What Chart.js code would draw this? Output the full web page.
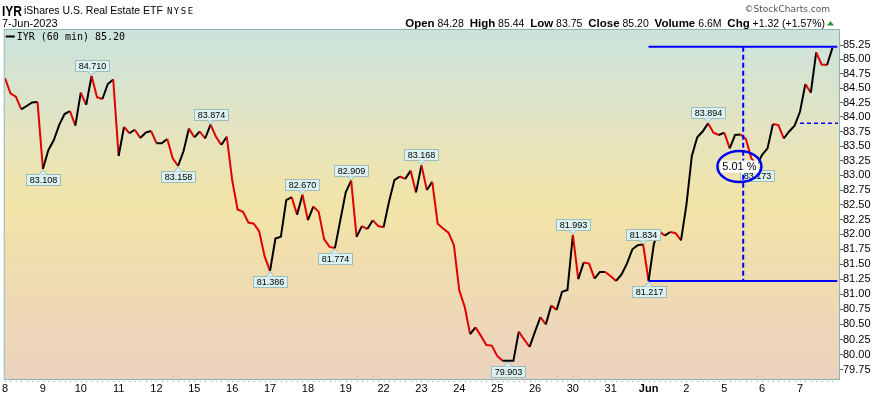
<!DOCTYPE html>
<html>
<head>
  <meta charset="UTF-8">
  <title>IYR 60 min</title>
  <script src="https://cdn.jsdelivr.net/npm/chart.js@4.4.0/dist/chart.umd.min.js"></script>
  <style>
    body { margin: 0; padding: 0; background: #fff; }
    #wrap { width: 872px; height: 395px; position: relative; }
  </style>
</head>
<body>
  <div id="wrap"><canvas id="chart"></canvas></div>

  <script>
    // one label per trading day, 7 hourly bars per day
    const dayLabels = ['8', '9', '10', '11', '12', '15', '16', '17', '18', '19', '22', '23',
      '24', '25', '26', '30', '31', 'Jun', '2', '5', '6', '7'];
    const barsPerDay = 7;

    const closes = [
      84.67, 84.41, 84.35, 84.13, 84.19, 84.25, 84.26,
      83.11, 83.43, 83.60, 83.86, 84.05, 84.10, 83.85,
      84.42, 84.21, 84.71, 84.34, 84.31, 84.57, 84.65,
      83.33, 83.83, 83.72, 83.78, 83.64, 83.73, 83.76,
      83.55, 83.55, 83.62, 83.29, 83.16, 83.41, 83.80,
      83.65, 83.75, 83.63, 83.87, 83.66, 83.52, 83.66,
      82.92, 82.42, 82.38, 82.20, 82.18, 82.05, 81.63,
      81.39, 81.93, 81.96, 82.58, 82.63, 82.33, 82.67,
      82.24, 82.47, 82.38, 81.92, 81.79, 81.77, 82.24,
      82.71, 82.91, 81.96, 82.14, 82.09, 82.24, 82.14,
      82.12, 82.55, 82.92, 82.98, 82.94, 83.08, 82.71,
      83.17, 82.75, 82.89, 82.18, 82.10, 82.03, 81.82,
      81.06, 80.79, 80.34, 80.45, 80.31, 80.16, 80.15,
      79.98, 79.90, 79.90, 79.90, 80.38, 80.25, 80.13,
      80.38, 80.62, 80.50, 80.81, 80.74, 81.04, 81.07,
      81.99, 81.25, 81.53, 81.51, 81.26, 81.37, 81.37,
      81.30, 81.22, 81.33, 81.51, 81.75, 81.82, 81.83,
      81.22, 81.85, 82.05, 81.98, 82.04, 82.02, 81.90,
      82.50, 83.33, 83.65, 83.75, 83.89, 83.73, 83.69,
      83.73, 83.46, 83.69, 83.70, 83.62, 83.29, 83.17,
      83.35, 83.46, 83.88, 83.86, 83.63, 83.75, 83.85,
      84.09, 84.57, 84.42, 85.12, 84.91, 84.90, 85.20
    ];

    const yTicks = [85.25, 85.00, 84.75, 84.50, 84.25, 84.00, 83.75, 83.50, 83.25, 83.00,
      82.75, 82.50, 82.25, 82.00, 81.75, 81.50, 81.25, 81.00, 80.75, 80.50, 80.25, 80.00, 79.75];

    // swing high / low callouts
    const calloutIdx = [7, 16, 32, 38, 49, 55, 61, 64, 77, 93, 105, 118, 119, 130, 139];
    const calloutText = ['83.108', '84.710', '83.158', '83.874', '81.386', '82.670', '81.774',
      '82.909', '83.168', '79.903', '81.993', '81.834', '81.217', '83.894', '83.173'];
    const calloutSide = ['below', 'above', 'below', 'above', 'below', 'above', 'below',
      'above', 'above', 'below', 'above', 'above', 'below', 'above', 'below'];

    const SANS = '"Liberation Sans", Arial, sans-serif';

    function drawCallout(ctx, x, y, text, side) {
      ctx.font = '9px ' + SANS;
      const w = Math.round(ctx.measureText(text).width) + 6;
      const h = 11;
      const bx = Math.round(x - w / 2) + 0.5;
      const by = side === 'above' ? Math.round(y - 5 - h) + 0.5 : Math.round(y + 5) + 0.5;
      ctx.fillStyle = '#dcf2f0';
      ctx.strokeStyle = '#9cbdbb';
      ctx.lineWidth = 1;
      ctx.fillRect(bx, by, w, h);
      ctx.strokeRect(bx, by, w, h);
      // little pointer toward the bar
      const edge = side === 'above' ? by + h : by;
      const tip = side === 'above' ? y - 1 : y + 1;
      ctx.beginPath();
      ctx.moveTo(x - 4, edge);
      ctx.lineTo(x, tip);
      ctx.lineTo(x + 4, edge);
      ctx.closePath();
      ctx.fill();
      ctx.beginPath();
      ctx.moveTo(x - 4, edge);
      ctx.lineTo(x, tip);
      ctx.lineTo(x + 4, edge);
      ctx.stroke();
      ctx.fillStyle = '#000';
      ctx.textAlign = 'center';
      ctx.textBaseline = 'middle';
      ctx.fillText(text, bx + w / 2, by + h / 2 + 0.5);
    }

    const decor = {
      id: 'decor',
      beforeDraw(chart) {
        const { ctx, chartArea: a } = chart;
        ctx.save();
        ctx.fillStyle = '#fff';
        ctx.fillRect(0, 0, chart.width, chart.height);
        const g = ctx.createLinearGradient(0, a.top, 0, a.bottom);
        g.addColorStop(0, '#cbe3dd');
        g.addColorStop(0.3, '#e5e4bf');
        g.addColorStop(0.5, '#f2e4a7');
        g.addColorStop(0.75, '#efdab3');
        g.addColorStop(1, '#ebd2bf');
        ctx.fillStyle = g;
        ctx.fillRect(a.left, a.top, a.right - a.left, a.bottom - a.top);

        // header
        ctx.fillStyle = '#000';
        ctx.textBaseline = 'alphabetic';
        ctx.textAlign = 'left';
        ctx.save();
        ctx.translate(2, 16);
        ctx.scale(0.8, 1);
        ctx.font = 'bold 15px ' + SANS;
        ctx.fillText('IYR', 0, 0);
        ctx.restore();
        ctx.font = '10.5px ' + SANS;
        const title = 'iShares U.S. Real Estate ETF';
        ctx.fillText(title, 24, 13.5);
        const nx = 24 + ctx.measureText(title).width + 4;
        ctx.font = '9px "DejaVu Sans Mono", monospace';
        ctx.letterSpacing = '1.5px';
        ctx.fillText('NYSE', nx, 13.5);
        ctx.letterSpacing = '0px';
        ctx.font = '11px ' + SANS;
        ctx.fillText('7-Jun-2023', 2, 26.5);

        ctx.fillStyle = '#555';
        ctx.font = '9px "DejaVu Sans", sans-serif';
        ctx.textAlign = 'right';
        ctx.fillText('\u00a9StockCharts.com', 830, 11.5);

        const parts = [['Open', 1], [' 84.28  ', 0], ['High', 1], [' 85.44  ', 0], ['Low', 1],
          [' 83.75  ', 0], ['Close', 1], [' 85.20  ', 0], ['Volume', 1], [' 6.6M  ', 0],
          ['Chg', 1], [' +1.32 (+1.57%)', 0]];
        const fb = 'bold 11.5px ' + SANS, fn = '10.5px ' + SANS;
        let total = 0;
        parts.forEach(p => { ctx.font = p[1] ? fb : fn; total += ctx.measureText(p[0]).width; });
        let x = 825 - total;
        ctx.textAlign = 'left';
        ctx.fillStyle = '#000';
        parts.forEach(p => { ctx.font = p[1] ? fb : fn; ctx.fillText(p[0], x, 26.5); x += ctx.measureText(p[0]).width; });
        ctx.fillStyle = '#1f9a3a';
        ctx.beginPath();
        ctx.moveTo(x + 2, 25.5);
        ctx.lineTo(x + 9, 25.5);
        ctx.lineTo(x + 5.5, 21);
        ctx.closePath();
        ctx.fill();
        ctx.restore();
      },
      afterDatasetsDraw(chart) {
        const { ctx, chartArea: a, scales: { x: xs, y: ys } } = chart;
        const pts = chart.getDatasetMeta(0).data;
        ctx.save();

        calloutIdx.forEach((i, k) => drawCallout(ctx, pts[i].x, pts[i].y, calloutText[k], calloutSide[k]));

        // blue range measurement: low of Jun 1 to the latest high
        const lowIdx = 119;
        const xStart = xs.getPixelForValue(lowIdx);
        const xEnd = xs.getPixelForValue(153.9);
        const yHigh = ys.getPixelForValue(85.22);
        const yLow = ys.getPixelForValue(closes[lowIdx]);
        ctx.strokeStyle = '#0000ff';
        ctx.lineWidth = 2;
        ctx.beginPath();
        ctx.moveTo(xStart, yHigh); ctx.lineTo(xEnd, yHigh);
        ctx.moveTo(xStart, yLow); ctx.lineTo(xEnd, yLow);
        ctx.stroke();

        const xv = xs.getPixelForValue(136.5);
        ctx.setLineDash([5, 3]);
        ctx.beginPath();
        ctx.moveTo(xv, yHigh); ctx.lineTo(xv, yLow);
        ctx.stroke();

        const yMid = ys.getPixelForValue(83.894);
        ctx.lineWidth = 1.5;
        ctx.setLineDash([4, 3]);
        ctx.beginPath();
        ctx.moveTo(xs.getPixelForValue(147), yMid); ctx.lineTo(a.right - 2, yMid);
        ctx.stroke();
        ctx.setLineDash([]);

        // circled percentage
        const ex = xs.getPixelForValue(135.8), ey = ys.getPixelForValue(83.15);
        ctx.font = '11px ' + SANS;
        const label = '5.01 %';
        const tw = ctx.measureText(label).width;
        ctx.fillStyle = '#fff';
        ctx.fillRect(ex - tw / 2 - 2, ey - 6, tw + 4, 12);
        ctx.fillStyle = '#000';
        ctx.textAlign = 'center';
        ctx.textBaseline = 'middle';
        ctx.fillText(label, ex, ey);
        ctx.strokeStyle = '#0000ee';
        ctx.lineWidth = 2.5;
        ctx.beginPath();
        ctx.ellipse(ex, ey, 22, 15.5, 0, 0, Math.PI * 2);
        ctx.stroke();

        // legend
        ctx.fillStyle = '#000';
        ctx.fillRect(a.left + 1, a.top + 5.5, 9, 2);
        ctx.font = '10px "DejaVu Sans Mono", monospace';
        ctx.textAlign = 'left';
        ctx.textBaseline = 'middle';
        ctx.fillText('IYR (60 min) 85.20', a.left + 12, a.top + 7);
        ctx.restore();
      },
      afterDraw(chart) {
        const { ctx, chartArea: a, scales: { x: xs } } = chart;
        ctx.save();
        ctx.strokeStyle = '#8fb1b0';
        ctx.lineWidth = 1;
        ctx.strokeRect(a.left - 0.5, a.top - 0.5, a.right - a.left, a.bottom - a.top);
        // small hourly ticks under the frame
        ctx.fillStyle = '#8fb1b0';
        for (let i = 0; i < closes.length; i++) {
          ctx.fillRect(Math.round(xs.getPixelForValue(i)), a.bottom + 1, 1, 1);
        }
        ctx.restore();
      }
    };

    new Chart(document.getElementById('chart'), {
      type: 'line',
      data: {
        datasets: [{
          label: 'IYR (60 min)',
          data: closes.map((v, i) => ({ x: i, y: v })),
          borderWidth: 2,
          pointRadius: 0,
          tension: 0,
          segment: {
            borderColor: c => c.p1.parsed.y < c.p0.parsed.y ? '#e00000' : '#000000'
          }
        }]
      },
      options: {
        responsive: true,
        maintainAspectRatio: false,
        animation: false,
        devicePixelRatio: 1,
        layout: { padding: { top: 30, left: 3, right: 0, bottom: 0 } },
        plugins: { legend: { display: false }, tooltip: { enabled: false } },
        scales: {
          x: {
            type: 'linear',
            min: -0.06,
            max: 154.4,
            afterFit: s => { s.height = 15; },
            afterBuildTicks: s => { s.ticks = dayLabels.map((_, k) => ({ value: k * barsPerDay })); },
            grid: { display: false, drawTicks: false, tickLength: 0 },
            border: { display: false },
            ticks: {
              autoSkip: false,
              maxRotation: 0,
              padding: 2,
              color: '#000',
              callback: (v, i) => dayLabels[i],
              font: c => ({ family: SANS, size: 11, weight: c.index === 17 ? 'bold' : 'normal' })
            }
          },
          y: {
            type: 'logarithmic',
            position: 'right',
            min: 79.586,
            max: 85.513,
            afterFit: s => { s.width = 32; },
            afterBuildTicks: s => { s.ticks = yTicks.map(v => ({ value: v })); },
            grid: { drawOnChartArea: false, drawTicks: true, tickLength: 3, color: '#666' },
            border: { display: false },
            ticks: {
              autoSkip: false,
              padding: 0,
              color: '#000',
              font: { family: SANS, size: 11 },
              callback: v => Number(v).toFixed(2)
            }
          }
        }
      },
      plugins: [decor]
    });
  </script>
</body>
</html>
